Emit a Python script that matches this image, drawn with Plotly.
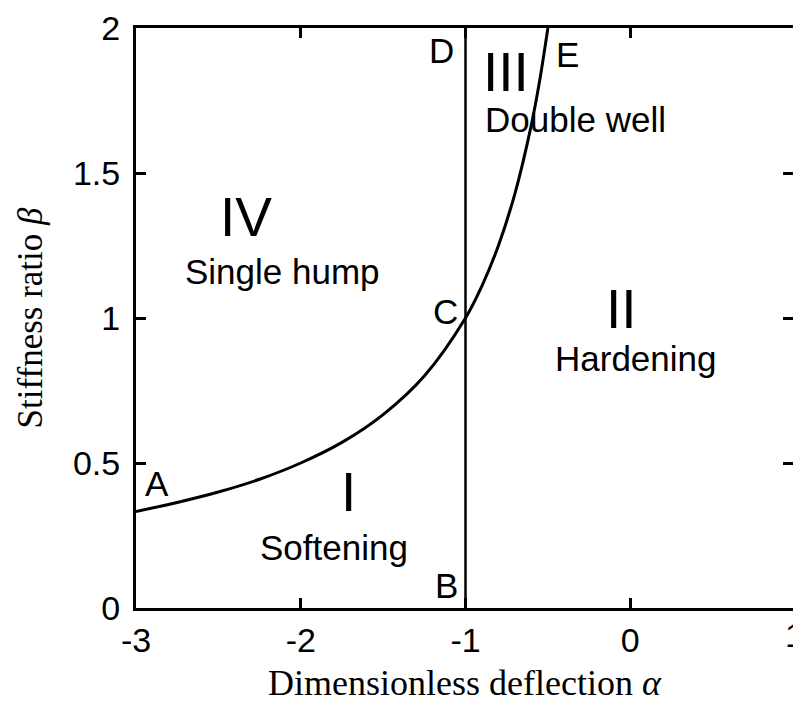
import plotly.graph_objects as go

# Boundary curve between regions (dimensionless deflection alpha vs stiffness ratio beta)
alpha_curve = [-3.0, -2.75, -2.5, -2.25, -2.0, -1.75, -1.5, -1.25, -1.0,
               -0.9, -0.8, -0.7, -0.6, -0.55, -0.5]
beta_curve = [0.333, 0.364, 0.400, 0.444, 0.500, 0.571, 0.667, 0.800, 1.000,
              1.111, 1.250, 1.429, 1.667, 1.818, 2.000]

# Vertical boundary at alpha = -1 (points B to D)
alpha_vline = [-1.0, -1.0]
beta_vline = [0.0, 2.0]

# Axis ticks
x_tickvals = [-3, -2, -1, 0, 1]
x_ticktext = ["-3", "-2", "-1", "0", "1"]
y_tickvals = [0, 0.5, 1, 1.5, 2]
y_ticktext = ["0", "0.5", "1", "1.5", "2"]

# Region numerals and names
region_numerals = ["IV", "III", "II", "I"]
region_names = ["Single hump", "Double well", "Hardening", "Softening"]
# Boundary point letters
point_letters = ["A", "B", "C", "D", "E"]

# Placement of the text labels (alpha, beta)
numeral_pos = [(-2.33, 1.348), (-0.754, 1.848), (-0.056, 1.031), (-1.713, 0.40)]
name_pos = [(-2.108, 1.159), (-0.335, 1.683), (0.035, 0.862), (-1.798, 0.21)]
letter_pos = [(-2.873, 0.428), (-1.118, 0.079), (-1.124, 1.024),
              (-1.143, 1.921), (-0.378, 1.910)]

SANS = "Liberation Sans, Arial, sans-serif"
SERIF = "Liberation Serif, Times New Roman, serif"

W, H = 793, 707
ML, MT, MB = 136, 28, 99
# x scale: one unit of alpha spans 164.75 px; the frame runs past the right edge
PX_PER_UNIT = 164.75
x_max = x_tickvals[0] + (W - ML) / PX_PER_UNIT

fig = go.Figure()
fig.add_trace(go.Scatter(x=alpha_curve, y=beta_curve, mode="lines",
                         line=dict(color="black", width=3, shape="spline"),
                         hoverinfo="skip", showlegend=False))
fig.add_trace(go.Scatter(x=alpha_vline, y=beta_vline, mode="lines",
                         line=dict(color="black", width=2.5),
                         hoverinfo="skip", showlegend=False))
# invisible trace carrying the right-hand tick axis
fig.add_trace(go.Scatter(x=[x_tickvals[0]], y=[y_tickvals[0]], yaxis="y2",
                         mode="markers", marker=dict(opacity=0),
                         hoverinfo="skip", showlegend=False))

annotations = []
for txt, (ax, by) in zip(region_numerals, numeral_pos):
    annotations.append(dict(x=ax, y=by, text=txt, showarrow=False,
                            font=dict(family=SANS, size=55, color="black"),
                            xanchor="center", yanchor="middle"))
for txt, (ax, by) in zip(region_names, name_pos):
    annotations.append(dict(x=ax, y=by, text=txt, showarrow=False,
                            font=dict(family=SANS, size=35, color="black"),
                            xanchor="center", yanchor="middle"))
for txt, (ax, by) in zip(point_letters, letter_pos):
    annotations.append(dict(x=ax, y=by, text=txt, showarrow=False,
                            font=dict(family=SANS, size=35, color="black"),
                            xanchor="center", yanchor="middle"))
# last x tick label sits just beyond the right edge
annotations.append(dict(xref="paper", yref="paper",
                        x=(x_tickvals[-1] - x_tickvals[0]) / (x_max - x_tickvals[0]),
                        y=0, yshift=-27, text=x_ticktext[-1], showarrow=False,
                        font=dict(family=SANS, size=34, color="black"),
                        xanchor="center", yanchor="middle"))

fig.update_layout(
    width=W, height=H,
    margin=dict(l=ML, r=0, t=MT, b=MB),
    paper_bgcolor="white", plot_bgcolor="white",
    annotations=annotations,
    xaxis=dict(range=[x_tickvals[0], x_max], tickvals=x_tickvals, ticktext=x_ticktext,
               ticks="inside", ticklen=10, tickwidth=3, tickcolor="black",
               showline=True, linewidth=3, linecolor="black", mirror="ticks",
               showgrid=False, zeroline=False, ticklabelstandoff=0,
               tickfont=dict(family=SANS, size=34, color="black"),
               title=dict(text="Dimensionless deflection <i>α</i>",
                          font=dict(family=SERIF, size=36, color="black"),
                          standoff=13)),
    yaxis=dict(range=[0, 2], tickvals=y_tickvals, ticktext=y_ticktext,
               ticks="inside", ticklen=10, tickwidth=3, tickcolor="black",
               showline=True, linewidth=3, linecolor="black", mirror=False,
               showgrid=False, zeroline=False, ticklabelstandoff=6,
               tickfont=dict(family=SANS, size=34, color="black"),
               title=dict(text="Stiffness ratio <i>β</i>",
                          font=dict(family=SERIF, size=35, color="black"),
                          standoff=20)),
    yaxis2=dict(range=[0, 2], tickvals=y_tickvals, overlaying="y", side="right",
                ticks="inside", ticklen=10, tickwidth=3, tickcolor="black",
                showticklabels=False, showline=False, showgrid=False,
                zeroline=False),
)

fig.write_html("out.html")
